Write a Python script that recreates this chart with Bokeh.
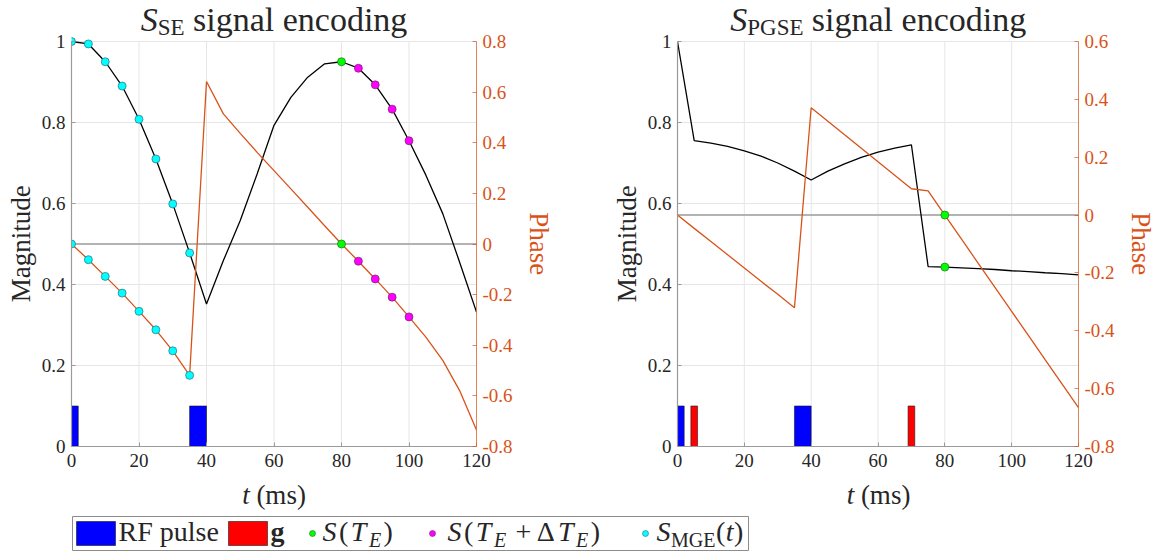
import math
from bokeh.plotting import figure
from bokeh.models import Range1d, LinearAxis, FixedTicker, CustomJSTickFormatter, Span
from bokeh.core.properties import value
from bokeh.layouts import column, row
from bokeh.embed import file_html
from bokeh.resources import INLINE

# ---------------- data ----------------
t_grid = [0, 5, 10, 15, 20, 25, 30, 35, 40, 45, 50, 55, 60, 65, 70, 75, 80,
          85, 90, 95, 100, 105, 110, 115, 120]

# S_SE panel
se_mag = [1.0, 0.994, 0.95, 0.89, 0.808, 0.71, 0.599, 0.478, 0.352, 0.459, 0.558,
          0.673, 0.793, 0.862, 0.912, 0.945, 0.95, 0.934, 0.893, 0.833, 0.755,
          0.67, 0.575, 0.455, 0.332]
se_phase = [0.0, -0.062, -0.128, -0.194, -0.266, -0.339, -0.422, -0.519, 0.642,
            0.514, 0.437, 0.362, 0.29, 0.218, 0.145, 0.072, 0.0, -0.068, -0.138,
            -0.21, -0.288, -0.368, -0.46, -0.579, -0.735]
se_rf_start = [0, 35]
se_rf_end = [2, 40]

mge_t = [0, 5, 10, 15, 20, 25, 30, 35]
mge_mag = [1.0, 0.994, 0.95, 0.89, 0.808, 0.71, 0.599, 0.478]
mge_phase = [0.0, -0.062, -0.128, -0.194, -0.266, -0.339, -0.422, -0.519]

se_te_t = [80]
se_te_mag = [0.95]
se_te_phase = [0.0]

se_dte_t = [85, 90, 95, 100]
se_dte_mag = [0.934, 0.893, 0.833, 0.755]
se_dte_phase = [-0.068, -0.138, -0.21, -0.288]

# S_PGSE panel
pg_mag = [1.0, 0.755, 0.749, 0.741, 0.730, 0.717, 0.700, 0.680, 0.658, 0.680,
          0.698, 0.714, 0.727, 0.737, 0.745, 0.444, 0.443, 0.441, 0.439, 0.437,
          0.434, 0.432, 0.429, 0.427, 0.424]
pg_phase = [0.0, -0.046, -0.091, -0.137, -0.183, -0.229, -0.274, -0.32, 0.371,
            0.324, 0.278, 0.231, 0.184, 0.138, 0.091, 0.084, 0.0, -0.083, -0.167,
            -0.25, -0.333, -0.416, -0.5, -0.583, -0.666]
pg_rf_start = [0, 35]
pg_rf_end = [2, 40]
pg_g_start = [4, 69]
pg_g_end = [6, 71]
pg_te_t = [80]
pg_te_mag = [0.443]
pg_te_phase = [0.0]

pulse_height = 0.1

x_ticks = [0, 20, 40, 60, 80, 100, 120]
mag_ticks = [0, 0.2, 0.4, 0.6, 0.8, 1.0]
se_phase_ticks = [-0.8, -0.6, -0.4, -0.2, 0, 0.2, 0.4, 0.6, 0.8]
pg_phase_ticks = [-0.8, -0.6, -0.4, -0.2, 0, 0.2, 0.4, 0.6]

# ---------------- style ----------------
FONT = "Liberation Serif"
PHASE_C = "#D95319"
AX_C = "#9a9a9a"
GRID_C = "#e6e6e6"
TXT_C = "#262626"
FH = 405          # axes box height (px)
HEAD = 41         # title area above axes box, kept inside the frame
P_BOT = 30        # panel border below frame
BOT_H = 80        # bottom strip height
W = 1158
MID = 0.34        # baseline -> middle offset (em)
TOPX = (FH + HEAD) / FH
NBSP = "\u00a0"

W_REG = {' ': .25, '(': .333, ')': .333, '+': .564, 'R': .667, 'F': .556, 'p': .5,
         'u': .5, 'l': .278, 's': .389, 'e': .444, 'g': .5, 'i': .278, 'n': .5,
         'a': .444, 'c': .444, 'o': .5, 'd': .5, 't': .278, 'm': .778, 'M': .889,
         'G': .722, 'E': .611, 'S': .556, 'T': .611, 'P': .556, 'Δ': .612}
W_IT = {'S': .5, 'T': .556, 'E': .611, 't': .278, '(': .333, ')': .333}


def text_w(s, size, style):
    tab = W_IT if style == "italic" else W_REG
    return sum(tab.get(c, 0.5) for c in s) * size


def rich(p, x0, base, pieces, to_data, color=TXT_C, center=False, gap=0.0):
    total = sum(text_w(s, sz, st) + gap for s, sz, st, dy in pieces)
    x = x0 - total / 2 if center else x0
    for s, sz, st, dy in pieces:
        lead = len(s) - len(s.lstrip())
        X, Y = to_data(x + lead * W_REG[' '] * sz, base + dy - MID * sz)
        p.text(x=[X], y=[Y], text=[s.strip()],
               text_font=value(FONT), text_font_size=value(f"{sz}px"),
               text_font_style=st, text_color=color,
               text_baseline="middle", text_align="left")
        x += text_w(s, sz, st) + gap


def strip(h):
    s = figure(width=W, height=h, x_range=Range1d(0, W), y_range=Range1d(h, 0),
               output_backend="svg", toolbar_location=None, title=None,
               x_axis_location=None, y_axis_location=None, min_border=0)
    s.grid.visible = False
    s.outline_line_color = None
    return s


fmt = CustomJSTickFormatter(code="return tick.toFixed(1).replace(/\\.0$/, '');")


def panel(width, left, right, phase_lo, phase_hi, phase_ticks, sub):
    fw = width - left - right
    p = figure(width=width, height=HEAD + FH + P_BOT,
               x_range=Range1d(0, 120), y_range=Range1d(0, TOPX),
               output_backend="svg", toolbar_location=None, title=None,
               min_border_left=left, min_border_right=right,
               min_border_top=0, min_border_bottom=P_BOT)
    p.outline_line_color = None
    p.extra_y_ranges = {"phase": Range1d(phase_lo,
                                         phase_lo + (phase_hi - phase_lo) * TOPX)}

    for ax in (p.xaxis[0], p.yaxis[0]):
        ax.axis_line_color = AX_C
        ax.axis_line_width = 1.2
        ax.major_tick_line_color = AX_C
        ax.major_tick_in = 4
        ax.major_tick_out = 0
        ax.minor_tick_line_color = None
        ax.major_label_text_font = FONT
        ax.major_label_text_font_size = "19px"
        ax.major_label_text_color = TXT_C
        ax.formatter = fmt
    p.xaxis[0].ticker = FixedTicker(ticks=x_ticks)
    p.xaxis[0].major_label_standoff = 7
    p.yaxis[0].ticker = FixedTicker(ticks=mag_ticks)
    p.yaxis[0].bounds = (mag_ticks[0], mag_ticks[-1])
    p.yaxis[0].major_label_standoff = 6
    p.yaxis[0].axis_label = "Magnitude" + NBSP * 6
    p.yaxis[0].axis_label_text_font = FONT
    p.yaxis[0].axis_label_text_font_size = "27px"
    p.yaxis[0].axis_label_text_font_style = "normal"
    p.yaxis[0].axis_label_text_color = TXT_C
    p.yaxis[0].axis_label_standoff = 3

    ra = LinearAxis(y_range_name="phase", ticker=FixedTicker(ticks=phase_ticks),
                    formatter=fmt, axis_label=NBSP * 6 + "Phase",
                    bounds=(phase_lo, phase_hi))
    ra.axis_line_color = PHASE_C
    ra.axis_line_alpha = 0.7
    ra.major_tick_line_color = PHASE_C
    ra.major_tick_line_alpha = 0.7
    ra.major_tick_in = 4
    ra.major_tick_out = 0
    ra.minor_tick_line_color = None
    ra.major_label_text_font = FONT
    ra.major_label_text_font_size = "19px"
    ra.major_label_text_color = PHASE_C
    ra.major_label_standoff = 6
    ra.axis_label_text_font = FONT
    ra.axis_label_text_font_size = "27px"
    ra.axis_label_text_font_style = "normal"
    ra.axis_label_text_color = PHASE_C
    ra.axis_label_standoff = 8
    p.add_layout(ra, "right")

    p.xgrid.visible = False
    p.ygrid.ticker = FixedTicker(ticks=mag_ticks)
    p.ygrid.grid_line_color = GRID_C
    p.ygrid.grid_line_width = 1
    n = len(x_ticks)
    p.segment(x0=x_ticks, y0=[mag_ticks[0]] * n, x1=x_ticks, y1=[mag_ticks[-1]] * n,
              line_color=GRID_C, line_width=1, level="underlay")

    zero_loc = (0 - phase_lo) / (phase_hi - phase_lo)
    p.add_layout(Span(location=zero_loc, dimension="width", line_color="#b3b3b3",
                      line_width=2, level="underlay"))

    def to_data(xp, yp):  # px relative to frame left / panel top
        return xp * 120 / fw, (HEAD + FH - yp) / FH

    rich(p, fw / 2, 31, [("S", 34, "italic", 0), (sub, 23, "normal", 4),
                         (" signal encoding", 34, "normal", 0)], to_data, center=True)
    return p


def markers(p, t, mag, phase, color, edge):
    p.scatter(t, mag, size=8, fill_color=color, line_color=edge, line_width=0.7)
    p.scatter(t, phase, size=8, fill_color=color, line_color=edge, line_width=0.7,
              y_range_name="phase")


# ---------- left panel ----------
L1, R1 = 71, 124
p1 = panel(600, L1, R1, -0.8, 0.8, se_phase_ticks, "SE")
p1.quad(left=se_rf_start, right=se_rf_end, bottom=0, top=pulse_height,
        fill_color="#0000FF", line_color="#1a1a1a", line_width=0.6)
p1.line(t_grid, se_mag, line_color="black", line_width=1.3)
p1.line(t_grid, se_phase, line_color=PHASE_C, line_width=1.3, y_range_name="phase")
markers(p1, mge_t, mge_mag, mge_phase, "#00FFFF", "#2b6b80")
markers(p1, se_te_t, se_te_mag, se_te_phase, "#00FF00", "#2a6a2a")
markers(p1, se_dte_t, se_dte_mag, se_dte_phase, "#FF00FF", "#6a2a6a")

# ---------- right panel ----------
L2, R2 = 77, 79
p2 = panel(558, L2, R2, -0.8, 0.6, pg_phase_ticks, "PGSE")
p2.quad(left=pg_rf_start, right=pg_rf_end, bottom=0, top=pulse_height,
        fill_color="#0000FF", line_color="#1a1a1a", line_width=0.6)
p2.quad(left=pg_g_start, right=pg_g_end, bottom=0, top=pulse_height,
        fill_color="#FF0000", line_color="#1a1a1a", line_width=0.6)
p2.line(t_grid, pg_mag, line_color="black", line_width=1.3)
p2.line(t_grid, pg_phase, line_color=PHASE_C, line_width=1.3, y_range_name="phase")
markers(p2, pg_te_t, pg_te_mag, pg_te_phase, "#00FF00", "#2a6a2a")

c1 = L1 + (600 - L1 - R1) / 2
c2 = 600 + L2 + (558 - L2 - R2) / 2


def ident(x, y):
    return x, y


# ---------- bottom strip: x labels + legend ----------
bot = strip(BOT_H)
rich(bot, c1, 28, [("t", 27, "italic", 0), (" (ms)", 27, "normal", 0)], ident,
     center=True)
rich(bot, c2, 28, [("t", 27, "italic", 0), (" (ms)", 27, "normal", 0)], ident,
     center=True)

bot.quad(left=[72], right=[748], top=[40], bottom=[74], fill_color="white",
         line_color="#8c8c8c", line_width=1)
bot.quad(left=[76], right=[115], top=[45], bottom=[69], fill_color="#0000FF",
         line_color="#1a1a1a", line_width=0.6)
bot.quad(left=[228], right=[267], top=[45], bottom=[69], fill_color="#FF0000",
         line_color="#1a1a1a", line_width=0.6)
bot.scatter([312], [57], size=6, fill_color="#00FF00", line_color="#2a6a2a", line_width=0.6)
bot.scatter([432], [57], size=6, fill_color="#FF00FF", line_color="#6a2a6a", line_width=0.6)
bot.scatter([645], [57], size=6, fill_color="#00FFFF", line_color="#2b6b80", line_width=0.6)

BL = 65
rich(bot, 118, BL, [("RF pulse", 28, "normal", 0)], ident)
rich(bot, 270, BL, [("g", 28, "bold", 0)], ident)
rich(bot, 322, BL, [("S", 28, "italic", 0), ("(", 28, "normal", 0),
                    ("T", 28, "italic", 0), ("E", 20, "italic", 5),
                    (")", 28, "normal", 0)], ident, gap=2.5)
rich(bot, 447, BL, [("S", 28, "italic", 0), ("(", 28, "normal", 0),
                    ("T", 28, "italic", 0), ("E", 20, "italic", 5),
                    (" + Δ", 28, "normal", 0), ("T", 28, "italic", 0),
                    ("E", 20, "italic", 5), (")", 28, "normal", 0)], ident, gap=2.5)
rich(bot, 656, BL, [("S", 28, "italic", 0), ("MGE", 20, "normal", 5),
                    ("(", 28, "normal", 0), ("t", 28, "italic", 0),
                    (")", 28, "normal", 0)], ident, gap=0.5)

layout = column(row(p1, p2), bot)
open("out.html", "w").write(file_html(layout, INLINE))
